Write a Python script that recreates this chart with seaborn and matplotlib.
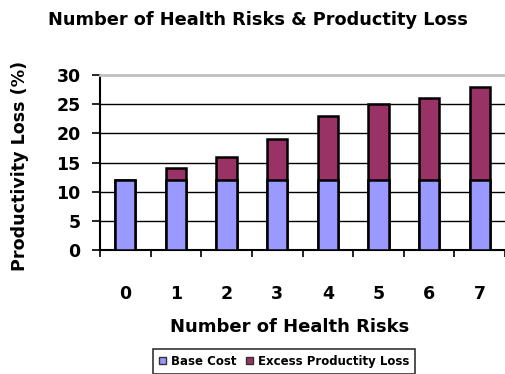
import matplotlib
matplotlib.use("Agg")
import matplotlib.pyplot as plt
import seaborn as sns
import pandas as pd
from matplotlib.patches import Patch

risks = ["0", "1", "2", "3", "4", "5", "6", "7"]
base_cost = [12, 12, 12, 12, 12, 12, 12, 12]
excess_loss = [0, 2, 4, 7, 11, 13, 14, 16]
y_ticks = [0, 5, 10, 15, 20, 25, 30]

BASE_COLOR = "#9999FF"
EXCESS_COLOR = "#993366"

df = pd.DataFrame({
    "risks": risks,
    "base": base_cost,
    "total": [b + e for b, e in zip(base_cost, excess_loss)],
})

sns.set_style("white")
plt.rcParams["font.family"] = ["DejaVu Sans"]
plt.rcParams["font.weight"] = "bold"
plt.rcParams["text.color"] = "black"
plt.rcParams["xtick.color"] = "black"
plt.rcParams["ytick.color"] = "black"
plt.rcParams["axes.labelcolor"] = "black"

fig = plt.figure(figsize=(5.05, 3.74), dpi=100)
ax = fig.add_axes([100 / 505, 1 - 250 / 374, 405 / 505, 175 / 374])

sns.barplot(data=df, x="risks", y="total", color=EXCESS_COLOR, saturation=1,
            width=0.4, edgecolor="black", linewidth=1.8, ax=ax, zorder=3)
sns.barplot(data=df, x="risks", y="base", color=BASE_COLOR, saturation=1,
            width=0.4, edgecolor="black", linewidth=1.8, ax=ax, zorder=4)

ax.set_xlim(-0.5, 7.5)
ax.set_ylim(0, 30)
ax.set_yticks(y_ticks)
ax.set_yticklabels([str(v) for v in y_ticks], fontsize=12.5, fontweight="bold")
for v in y_ticks[1:-1]:
    ax.axhline(v, color="black", lw=1.0, zorder=1)
ax.tick_params(axis="y", direction="out", length=6, width=1.2, color="black", pad=8, left=True)

ax.set_xticks(range(len(risks)))
ax.set_xticklabels(risks, fontsize=12.5, fontweight="bold")
ax.set_xticks([i - 0.5 for i in range(len(risks) + 1)], minor=True)
ax.tick_params(axis="x", which="major", length=0, pad=25)
ax.tick_params(axis="x", which="minor", direction="out", length=5, width=1.2, color="black", bottom=True)

for s in ["left", "bottom"]:
    ax.spines[s].set_color("black")
    ax.spines[s].set_linewidth(1.5)
ax.spines["right"].set_visible(False)
ax.spines["top"].set_color("#c0c0c0")
ax.spines["top"].set_linewidth(2)

ax.set_xlabel("Number of Health Risks", fontsize=13, fontweight="bold")
ax.xaxis.set_label_coords((290 - 100) / 405, (250 - 318) / 175)
ax.set_ylabel("Productivity Loss (%)", fontsize=12.6, fontweight="bold")
ax.yaxis.set_label_coords((29 - 100) / 405, 0.48)

fig.text(258 / 505, 1 - 20 / 374, "Number of Health Risks & Productity Loss",
         ha="center", va="center", fontsize=12.8, fontweight="bold")

handles = [Patch(facecolor=BASE_COLOR, edgecolor="#333333", lw=1),
           Patch(facecolor=EXCESS_COLOR, edgecolor="#333333", lw=1)]
leg = fig.legend(handles, ["Base Cost", "Excess Productity Loss"],
                 loc="upper center", bbox_to_anchor=(284 / 505, 1 - 349 / 374),
                 ncol=2, fontsize=8.5, frameon=True, fancybox=False,
                 handlelength=0.6, handleheight=0.6, handletextpad=0.4,
                 columnspacing=0.8, borderpad=0.5, borderaxespad=0)
leg.get_frame().set_edgecolor("black")
leg.get_frame().set_linewidth(1.2)
for t in leg.get_texts():
    t.set_fontweight("bold")

fig.savefig("out.png", dpi=100)
